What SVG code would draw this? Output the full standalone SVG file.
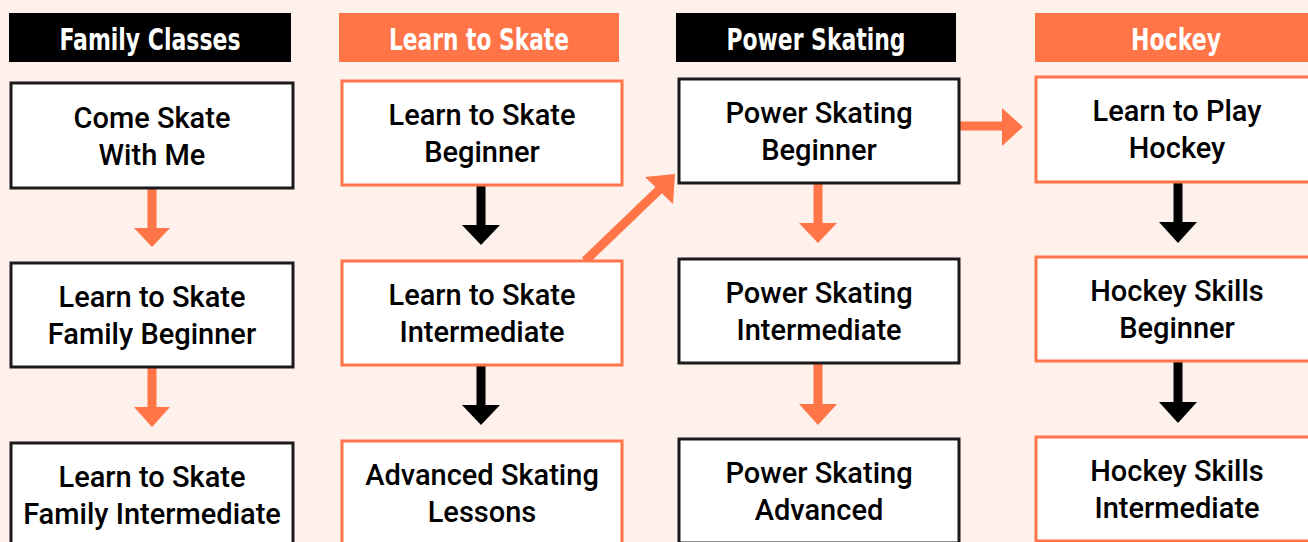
<svg xmlns="http://www.w3.org/2000/svg" width="1308" height="542" viewBox="0 0 1308 542">
<style>
.bg{fill:#fef0eb}
.hb{fill:#000}
.ho{fill:#ff7548}
.ht{font-family:"DejaVu Sans Condensed","Liberation Sans",sans-serif;font-weight:bold;font-size:31px;fill:#fff;text-anchor:middle}
.nb{fill:#fff;stroke:#1a1a1a;stroke-width:3}
.no{fill:#fff;stroke:#ff7548;stroke-width:3}
.nt{font-family:Roboto,"Liberation Sans",sans-serif;font-weight:500;font-size:29px;fill:#000;text-anchor:middle}
.ao{fill:#ff7548}
.ak{fill:#000}
</style>
<rect class="bg" x="0" y="0" width="1308" height="542"/>
<g id="headers">
<g id="h-family"><rect class="hb" x="9" y="13" width="282" height="49"/><text class="ht" x="150" y="50" textLength="181" lengthAdjust="spacingAndGlyphs">Family Classes</text></g>
<g id="h-lts"><rect class="ho" x="339" y="13" width="280" height="49"/><text class="ht" x="479" y="50" textLength="180" lengthAdjust="spacingAndGlyphs">Learn to Skate</text></g>
<g id="h-power"><rect class="hb" x="676" y="13" width="280" height="49"/><text class="ht" x="816" y="50" textLength="179" lengthAdjust="spacingAndGlyphs">Power Skating</text></g>
<g id="h-hockey"><rect class="ho" x="1035" y="13" width="282" height="49"/><text class="ht" x="1176" y="50" textLength="90" lengthAdjust="spacingAndGlyphs">Hockey</text></g>
</g>
<g id="connectors">
<rect class="ao" x="147.5" y="188" width="9" height="41"/><polygon class="ao" points="134,228 170,228 152,247"/>
<rect class="ao" x="147.5" y="367" width="9" height="41"/><polygon class="ao" points="134,407 170,407 152,427"/>
<rect class="ak" x="476.5" y="185" width="9" height="41"/><polygon class="ak" points="462,225 500,225 481,245"/>
<rect class="ak" x="476.5" y="365" width="9" height="41"/><polygon class="ak" points="462,405 500,405 481,425"/>
<rect class="ao" x="813.5" y="183" width="9" height="41"/><polygon class="ao" points="799,223 837,223 818,243"/>
<rect class="ao" x="813.5" y="363" width="9" height="41"/><polygon class="ao" points="799,404 837,404 818,425"/>
<rect class="ak" x="1173.5" y="182" width="9" height="41"/><polygon class="ak" points="1159,222 1197,222 1178,243"/>
<rect class="ak" x="1173.5" y="361" width="9" height="41"/><polygon class="ak" points="1159,402 1197,402 1178,423"/>
<rect class="ao" x="959" y="121.5" width="44" height="9"/><polygon class="ao" points="1002,108 1002,146 1023,127"/>
<line x1="585" y1="261" x2="661" y2="188" stroke="#ff7548" stroke-width="9"/><polygon class="ao" points="645,177 673,204 675,174"/>
</g>
<g id="n-cswm"><rect class="nb" x="11" y="83" width="282" height="105"/><text class="nt" x="152" y="128">Come Skate</text><text class="nt" x="152" y="165">With Me</text></g>
<g id="n-ltsfb"><rect class="nb" x="11" y="263" width="282" height="104"/><text class="nt" x="152" y="307">Learn to Skate</text><text class="nt" x="152" y="344">Family Beginner</text></g>
<g id="n-ltsfi"><rect class="nb" x="11" y="443" width="282" height="104"/><text class="nt" x="152" y="487">Learn to Skate</text><text class="nt" x="152" y="524">Family Intermediate</text></g>
<g id="n-ltsb"><rect class="no" x="342" y="81" width="280" height="104"/><text class="nt" x="482" y="125">Learn to Skate</text><text class="nt" x="482" y="162">Beginner</text></g>
<g id="n-ltsi"><rect class="no" x="342" y="261" width="280" height="104"/><text class="nt" x="482" y="305">Learn to Skate</text><text class="nt" x="482" y="342">Intermediate</text></g>
<g id="n-asl"><rect class="no" x="342" y="441" width="280" height="104"/><text class="nt" x="482" y="485">Advanced Skating</text><text class="nt" x="482" y="522">Lessons</text></g>
<g id="n-psb"><rect class="nb" x="679" y="79" width="280" height="104"/><text class="nt" x="819" y="123">Power Skating</text><text class="nt" x="819" y="160">Beginner</text></g>
<g id="n-psi"><rect class="nb" x="679" y="259" width="280" height="104"/><text class="nt" x="819" y="303">Power Skating</text><text class="nt" x="819" y="340">Intermediate</text></g>
<g id="n-psa"><rect class="nb" x="679" y="439" width="280" height="104"/><text class="nt" x="819" y="483">Power Skating</text><text class="nt" x="819" y="520">Advanced</text></g>
<g id="n-ltph"><rect class="no" x="1036" y="77" width="282" height="105"/><text class="nt" x="1177" y="121">Learn to Play</text><text class="nt" x="1177" y="158">Hockey</text></g>
<g id="n-hsb"><rect class="no" x="1036" y="257" width="282" height="104"/><text class="nt" x="1177" y="301">Hockey Skills</text><text class="nt" x="1177" y="338">Beginner</text></g>
<g id="n-hsi"><rect class="no" x="1036" y="437" width="282" height="104"/><text class="nt" x="1177" y="481">Hockey Skills</text><text class="nt" x="1177" y="518">Intermediate</text></g>
</svg>
